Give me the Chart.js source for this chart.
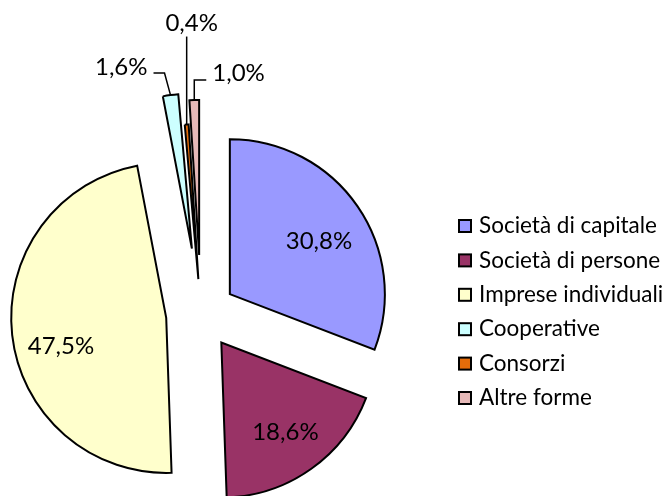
<!DOCTYPE html>
<html>
<head>
<meta charset="utf-8">
<script src="https://cdn.jsdelivr.net/npm/chart.js@4/dist/chart.umd.min.js"></script>
<style>
  html, body { margin: 0; padding: 0; background: #fff; }
  #wrap { width: 669px; height: 496px; }
</style>
</head>
<body>
<div id="wrap"><canvas id="chart" width="669" height="496"></canvas></div>
<script>
const categories = ['Società di capitale', 'Società di persone', 'Imprese individuali', 'Cooperative', 'Consorzi', 'Altre forme'];
const shares = [30.8, 18.6, 47.5, 1.6, 0.4, 1.0];
const colors = ['#9999FF', '#993366', '#FFFFCC', '#CCFFFF', '#E46C0A', '#E6B9B8'];

const FONT = 'Lato, "Open Sans", sans-serif';
const fmt = v => v.toFixed(1).replace('.', ',') + '%';

// how far each slice is pulled out of the pie
const explode = [35, 35, 35, 66, 35, 59];

// slice x,y after the pull-out
function apexOf(arc, i) {
    const mid = (arc.startAngle + arc.endAngle) / 2;
    return { mid, x: arc.x + Math.cos(mid) * explode[i], y: arc.y + Math.sin(mid) * explode[i] };
}

const explodePlugin = {
    id: 'explode',
    beforeDatasetDraw(chart, args) {
        const ctx = chart.ctx;
        args.meta.data.forEach((arc, i) => {
            const mid = (arc.startAngle + arc.endAngle) / 2;
            ctx.save();
            ctx.translate(Math.cos(mid) * explode[i], Math.sin(mid) * explode[i]);
            arc.draw(ctx);
            ctx.restore();
        });
        return false;
    }
};

// inside labels: nudge; outside labels: leader points + text anchor, relative to the outer rim
const inside = { 0: [1, 8], 1: [2, 3], 2: [1, 16] };
const callouts = {
    3: { pts: [[-6, -22], [-17, -22]], text: [-23, -28], align: 'right' },
    4: { pts: [[0, -88]], text: [5, -101], align: 'center' },
    5: { pts: [[0, -20], [12, -20]], text: [18, -27], align: 'left' }
};

const labelPlugin = {
    id: 'sliceLabels',
    afterDatasetsDraw(chart) {
        const ctx = chart.ctx;
        const meta = chart.getDatasetMeta(0);
        ctx.save();
        ctx.font = '24px ' + FONT;
        ctx.fillStyle = '#000';
        ctx.strokeStyle = '#000';
        ctx.lineWidth = 1.5;
        ctx.textBaseline = 'middle';
        meta.data.forEach((arc, i) => {
            const a = apexOf(arc, i);
            const R = arc.outerRadius;
            const txt = fmt(shares[i]);
            if (inside[i]) {
                const r = R * 0.69;
                ctx.textAlign = 'center';
                ctx.fillText(txt, a.x + Math.cos(a.mid) * r + inside[i][0], a.y + Math.sin(a.mid) * r + inside[i][1]);
                return;
            }
            const c = callouts[i];
            const ox = a.x + Math.cos(a.mid) * R;
            const oy = a.y + Math.sin(a.mid) * R;
            ctx.beginPath();
            ctx.moveTo(ox, oy);
            c.pts.forEach(p => ctx.lineTo(ox + p[0], oy + p[1]));
            ctx.stroke();
            ctx.textAlign = c.align;
            ctx.fillText(txt, ox + c.text[0], oy + c.text[1]);
        });
        ctx.restore();
    }
};

const legendPlugin = {
    id: 'sideLegend',
    afterDraw(chart) {
        const ctx = chart.ctx;
        const x = 459, y0 = 226, step = 34.4, box = 12;
        ctx.save();
        ctx.font = '22.5px ' + FONT;
        ctx.textBaseline = 'middle';
        ctx.textAlign = 'left';
        categories.forEach((name, i) => {
            const y = y0 + i * step;
            ctx.fillStyle = colors[i];
            ctx.fillRect(x, y - box / 2, box, box);
            ctx.lineWidth = 2;
            ctx.strokeStyle = '#000';
            ctx.strokeRect(x, y - box / 2, box, box);
            ctx.fillStyle = '#000';
            ctx.fillText(name, x + 20, y);
        });
        ctx.restore();
    }
};

new Chart(document.getElementById('chart'), {
    type: 'pie',
    data: {
        labels: categories,
        datasets: [{
            data: shares,
            backgroundColor: colors,
            borderColor: '#000',
            borderWidth: 2,
            borderJoinStyle: 'miter',
            clip: false
        }]
    },
    options: {
        responsive: false,
        devicePixelRatio: 1,
        animation: false,
        radius: 155,
        layout: { padding: { top: 132, left: 0, right: 267, bottom: 0 } },
        plugins: {
            legend: { display: false },
            tooltip: { enabled: false }
        }
    },
    plugins: [explodePlugin, labelPlugin, legendPlugin]
});
</script>
</body>
</html>
